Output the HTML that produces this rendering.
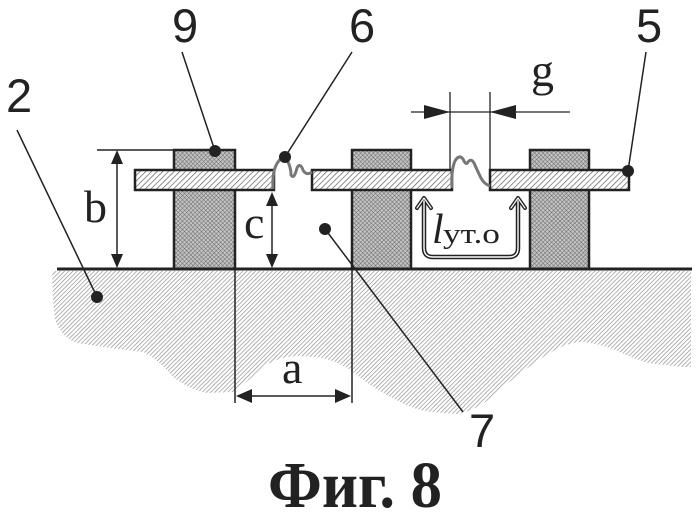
<!DOCTYPE html>
<html><head><meta charset="utf-8"><style>
html,body{margin:0;padding:0;background:#fff;}
svg{display:block;}
</style></head><body>
<svg width="698" height="512" viewBox="0 0 698 512" xmlns="http://www.w3.org/2000/svg">
<defs>
<pattern id="ground" width="3" height="3" patternUnits="userSpaceOnUse" patternTransform="rotate(45)">
<rect width="3" height="3" fill="#fff"/>
<line x1="0" y1="0" x2="0" y2="3" stroke="#8a8a8a" stroke-width="1.3"/>
</pattern>
<pattern id="plate" width="4" height="4" patternUnits="userSpaceOnUse" patternTransform="rotate(45)">
<rect width="4" height="4" fill="#fff"/>
<line x1="0" y1="0" x2="0" y2="4" stroke="#555" stroke-width="1.3"/>
</pattern>
<pattern id="post" width="3" height="3" patternUnits="userSpaceOnUse" patternTransform="rotate(45)">
<rect width="3" height="3" fill="#c4c4c4"/>
<line x1="0" y1="0" x2="0" y2="3" stroke="#555" stroke-width="0.8"/>
<line x1="0" y1="0" x2="3" y2="0" stroke="#555" stroke-width="0.8"/>
</pattern>
</defs>

<!-- ground hatch region -->
<path d="M52,271 L53,300 L55,320 Q62,338 77,343 L110,348 L143,352 Q157,358 173,377 Q190,390 207,393 L233,392 Q250,380 263,367 Q278,357 295,356 L317,357 Q335,360 350,370 Q375,390 398,401 Q415,410 431,412 L458,414 Q475,410 488,400 Q505,385 521,373 Q540,358 555,350 Q570,342 583,342 Q600,344 615,350 Q632,358 648,363 L681,367 L691,367 L691,271 Z" fill="url(#ground)"/>

<!-- posts -->
<rect x="174" y="150" width="61" height="119" fill="url(#post)" stroke="#222" stroke-width="2.5"/>
<rect x="352" y="150" width="59" height="119" fill="url(#post)" stroke="#222" stroke-width="2.5"/>
<rect x="530" y="150" width="59" height="119" fill="url(#post)" stroke="#222" stroke-width="2.5"/>

<!-- plates -->
<rect x="135" y="170" width="139" height="20" fill="url(#plate)" stroke="#222" stroke-width="2.5"/>
<rect x="312" y="170" width="140" height="20" fill="url(#plate)" stroke="#222" stroke-width="2.5"/>
<rect x="490" y="170" width="139" height="20" fill="url(#plate)" stroke="#222" stroke-width="2.5"/>

<!-- ground line -->
<line x1="57" y1="269" x2="692" y2="269" stroke="#222" stroke-width="3"/>

<!-- wavy lines -->
<path d="M273,189 Q272,170 278,162 Q283,155 287,160 Q291,167 291,175 Q294,180 297,168 Q300,162 303,170 Q306,176 312,172" fill="none" stroke="#777" stroke-width="3"/>
<path d="M452,188 Q451,170 455,161 Q459,154 463,159 Q466,166 468,162 Q471,158 474,163 Q478,172 481,178 Q484,184 490,186" fill="none" stroke="#777" stroke-width="3"/>

<!-- leaders -->
<line x1="17" y1="130" x2="97" y2="297" stroke="#222" stroke-width="1.5"/>
<circle cx="97" cy="297" r="6" fill="#222"/>
<line x1="182" y1="52" x2="215" y2="151" stroke="#222" stroke-width="1.5"/>
<circle cx="215" cy="151" r="6" fill="#222"/>
<line x1="352" y1="52" x2="285" y2="157" stroke="#222" stroke-width="1.5"/>
<circle cx="285" cy="157" r="6" fill="#222"/>
<line x1="646" y1="52" x2="628" y2="171" stroke="#222" stroke-width="1.5"/>
<circle cx="628" cy="171" r="6" fill="#222"/>
<line x1="325" y1="229" x2="463" y2="412" stroke="#222" stroke-width="1.5"/>
<circle cx="325" cy="229" r="6" fill="#222"/>

<!-- b dimension -->
<line x1="97" y1="150" x2="176" y2="150" stroke="#222" stroke-width="1.5"/>
<line x1="117" y1="160" x2="117" y2="258" stroke="#222" stroke-width="1.5"/>
<polygon points="117,150 111,164 123,164" fill="#222"/>
<polygon points="117,268 111,254 123,254" fill="#222"/>

<!-- c dimension -->
<line x1="272" y1="200" x2="272" y2="258" stroke="#222" stroke-width="1.5"/>
<polygon points="272,192 266,206 278,206" fill="#222"/>
<polygon points="272,268 266,254 278,254" fill="#222"/>

<!-- a dimension -->
<line x1="235" y1="269" x2="235" y2="403" stroke="#222" stroke-width="1.5"/>
<line x1="352" y1="269" x2="352" y2="403" stroke="#222" stroke-width="1.5"/>
<line x1="245" y1="396" x2="342" y2="396" stroke="#222" stroke-width="1.5"/>
<polygon points="236,396 252,389 252,403" fill="#222"/>
<polygon points="351,396 335,389 335,403" fill="#222"/>

<!-- g dimension -->
<line x1="450" y1="92" x2="450" y2="170" stroke="#222" stroke-width="1.3"/>
<line x1="490" y1="92" x2="490" y2="170" stroke="#222" stroke-width="1.3"/>
<line x1="411" y1="112" x2="570" y2="112" stroke="#222" stroke-width="1.3"/>
<polygon points="450,112 424,105 424,119" fill="#222"/>
<polygon points="490,112 516,105 516,119" fill="#222"/>

<!-- l_ut.o U-arrow (hollow) -->
<g fill="none" stroke-linejoin="round" stroke-linecap="round">
<path d="M424,199 L424,248 Q424,257 433,257 L509,257 Q518,257 518,248 L518,199" stroke="#222" stroke-width="4.5"/>
<path d="M417,208 L424,198 L431,208 M511,208 L518,198 L525,208" stroke="#222" stroke-width="4"/>
<path d="M424,201 L424,248 Q424,257 433,257 L509,257 Q518,257 518,248 L518,201" stroke="#fff" stroke-width="1.4"/>
<path d="M417,208 L424,198 L431,208 M511,208 L518,198 L525,208" stroke="#fff" stroke-width="1.2"/>
</g>
<text x="432" y="243" font-family="Liberation Serif, serif" font-style="italic" font-size="42" fill="#222">l</text>
<text x="443" y="243" font-family="Liberation Serif, 'Noto Serif CJK SC', serif" font-size="29" fill="#222" textLength="57" lengthAdjust="spacingAndGlyphs">ут.о</text>

<!-- labels -->
<g font-family="Liberation Sans, sans-serif" font-size="47" fill="#222">
<text x="6" y="112">2</text>
<text x="172" y="42">9</text>
<text x="349" y="42">6</text>
<text x="636" y="42">5</text>
<text x="469" y="447">7</text>
</g>
<g font-family="Liberation Serif, serif" font-size="46" fill="#222">
<text x="84" y="222">b</text>
<text x="244" y="238">c</text>
<text x="531" y="86">g</text>
<text x="282" y="383">a</text>
</g>

<!-- title -->
<text x="268" y="507" font-family="Liberation Serif, 'Noto Serif CJK SC', serif" font-weight="bold" font-size="66" fill="#222" textLength="174" lengthAdjust="spacingAndGlyphs">Фиг. 8</text>
</svg>
</body></html>
